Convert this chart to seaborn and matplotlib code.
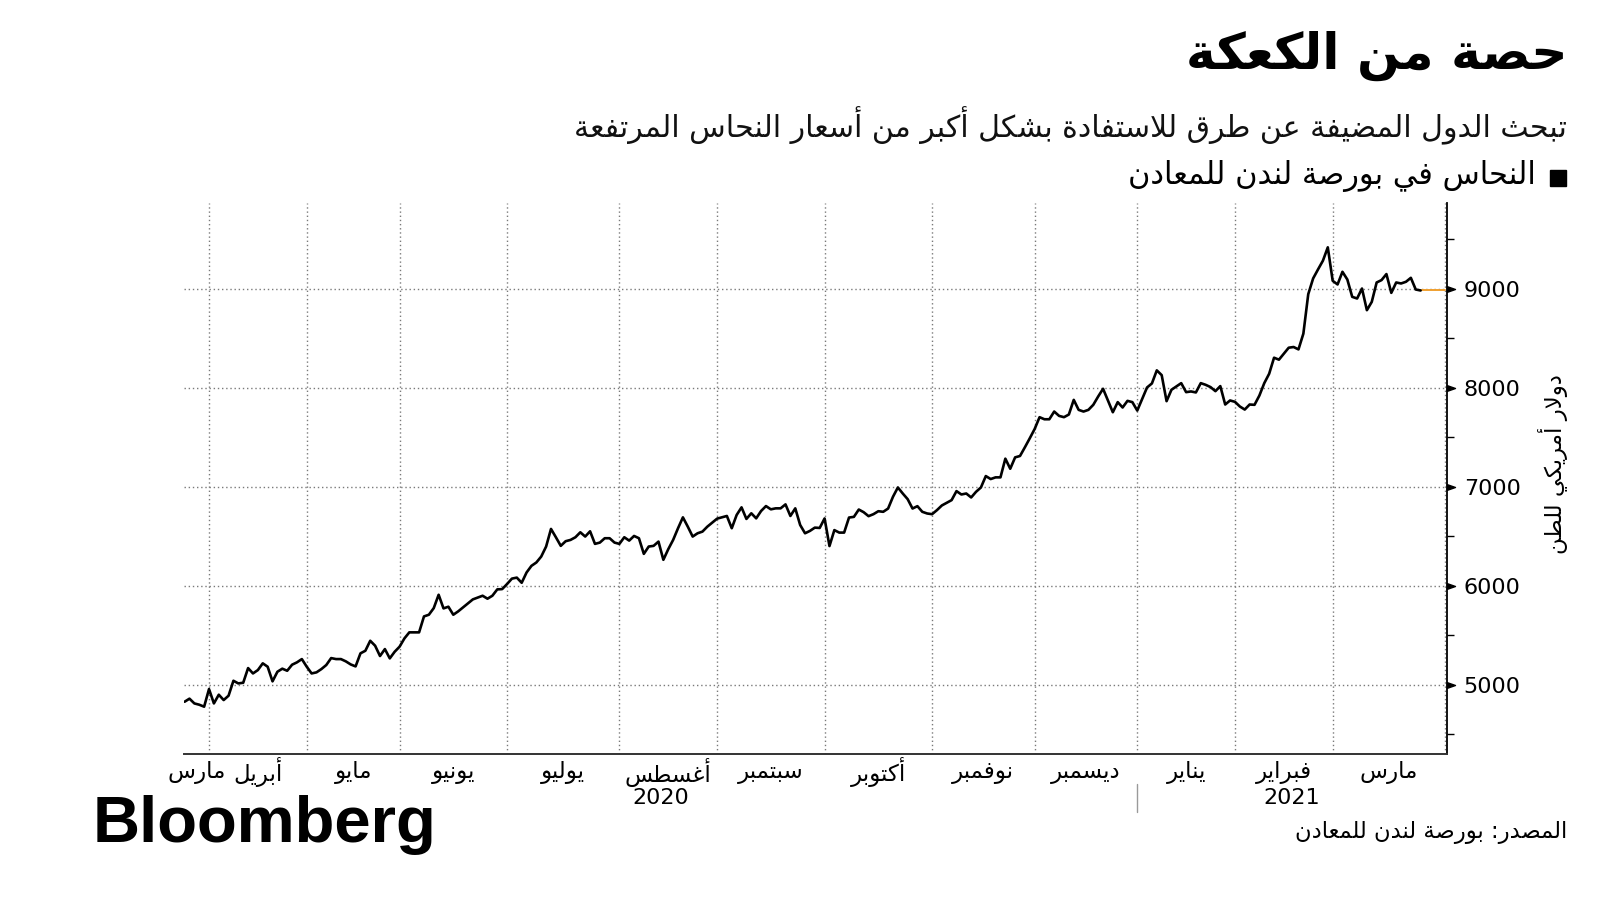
import numpy as np
import pandas as pd
import matplotlib
matplotlib.use("Agg")
import matplotlib.pyplot as plt
import seaborn as sns
from matplotlib.path import Path
from matplotlib.lines import Line2D
from matplotlib.transforms import blended_transform_factory

# ---------------- data ----------------
TITLE = "حصة من الكعكة"
SUBTITLE = "تبحث الدول المضيفة عن طرق للاستفادة بشكل أكبر من أسعار النحاس المرتفعة"
LEGEND = "النحاس في بورصة لندن للمعادن"
YLABEL = "دولار أمريكي للطن"
SOURCE = "المصدر: بورصة لندن للمعادن"
LOGO = "Bloomberg"
MONTHS = ["مارس", "أبريل", "مايو", "يونيو", "يوليو", "أغسطس", "سبتمبر",
          "أكتوبر", "نوفمبر", "ديسمبر", "يناير", "فبراير", "مارس"]
YEARS = ["2020", "2021"]
Y_TICKS = [5000, 6000, 7000, 8000, 9000]
Y_MINOR = [4500, 5500, 6500, 7500, 8500, 9500]

START = "2020-03-25"
END = "2021-04-01"
HOLIDAYS = ["2020-04-10", "2020-04-13", "2020-05-08", "2020-05-25",
            "2020-08-31", "2020-12-25", "2020-12-28", "2021-01-01"]

# LME copper, USD per tonne, one value per trading day from 2020-03-25
PRICES = [
    4828, 4859, 4811, 4798, 4778, 4956, 4811, 4899, 4845, 4889,
    5040, 5013, 5020, 5168, 5114, 5148, 5216, 5182, 5034, 5131,
    5162, 5141, 5202, 5226, 5259, 5182, 5114, 5125, 5158, 5199,
    5269, 5259, 5259, 5236, 5205, 5185, 5317, 5343, 5444, 5394,
    5290, 5360, 5266, 5333, 5384, 5468, 5529, 5529, 5529, 5690,
    5707, 5774, 5909, 5771, 5788, 5707, 5741, 5781, 5822, 5862,
    5880, 5899, 5869, 5899, 5963, 5966, 6017, 6072, 6082, 6030,
    6134, 6201, 6235, 6295, 6396, 6574, 6490, 6403, 6450, 6463,
    6490, 6540, 6497, 6550, 6423, 6436, 6480, 6480, 6436, 6423,
    6490, 6456, 6503, 6480, 6322, 6396, 6403, 6446, 6262, 6369,
    6463, 6581, 6691, 6597, 6497, 6530, 6547, 6597, 6638, 6678,
    6691, 6705, 6581, 6715, 6792, 6675, 6732, 6681, 6755, 6805,
    6772, 6782, 6782, 6822, 6705, 6782, 6614, 6530, 6554, 6587,
    6584, 6680, 6401, 6562, 6537, 6537, 6689, 6696, 6770, 6743,
    6703, 6723, 6753, 6747, 6780, 6899, 6993, 6932, 6875, 6780,
    6804, 6747, 6730, 6723, 6764, 6811, 6838, 6865, 6956, 6922,
    6932, 6892, 6949, 6993, 7108, 7078, 7095, 7095, 7284, 7182,
    7297, 7311, 7399, 7490, 7584, 7703, 7682, 7682, 7760, 7716,
    7703, 7730, 7878, 7777, 7760, 7777, 7828, 7912, 7990, 7872,
    7753, 7855, 7801, 7868, 7855, 7770, 7887, 8003, 8044, 8176,
    8128, 7865, 7980, 8014, 8047, 7956, 7963, 7953, 8047, 8030,
    8007, 7966, 8017, 7831, 7872, 7858, 7811, 7780, 7831, 7828,
    7922, 8047, 8142, 8304, 8284, 8345, 8405, 8412, 8388, 8547,
    8946, 9105, 9196, 9284, 9419, 9081, 9044, 9172, 9094, 8919,
    8902, 9003, 8784, 8868, 9064, 9088, 9149, 8959, 9064, 9054,
    9071, 9111, 8993, 8983,
]

# ---------------- Arabic shaping (presentation forms + visual order) ----------------
DUAL = {'ئ': 0xFE89, 'ب': 0xFE8F, 'ت': 0xFE95, 'ث': 0xFE99, 'ج': 0xFE9D, 'ح': 0xFEA1,
        'خ': 0xFEA5, 'س': 0xFEB1, 'ش': 0xFEB5, 'ص': 0xFEB9, 'ض': 0xFEBD, 'ط': 0xFEC1,
        'ظ': 0xFEC5, 'ع': 0xFEC9, 'غ': 0xFECD, 'ف': 0xFED1, 'ق': 0xFED5, 'ك': 0xFED9,
        'ل': 0xFEDD, 'م': 0xFEE1, 'ن': 0xFEE5, 'ه': 0xFEE9, 'ي': 0xFEF1}
RIGHT = {'آ': 0xFE81, 'أ': 0xFE83, 'ؤ': 0xFE85, 'إ': 0xFE87, 'ا': 0xFE8D, 'ة': 0xFE93,
         'د': 0xFEA9, 'ذ': 0xFEAB, 'ر': 0xFEAD, 'ز': 0xFEAF, 'و': 0xFEED, 'ى': 0xFEEF}
LAMALEF = {'آ': 0xFEF5, 'أ': 0xFEF7, 'إ': 0xFEF9, 'ا': 0xFEFB}


def shape(text):
    units = []
    i = 0
    while i < len(text):
        c = text[i]
        if c == 'ل' and i + 1 < len(text) and text[i + 1] in LAMALEF:
            units.append(('LA', LAMALEF[text[i + 1]]))
            i += 2
        else:
            units.append((c, None))
            i += 1

    def is_letter(u):
        return u[0] == 'LA' or u[0] in DUAL or u[0] in RIGHT

    out = []
    for k, u in enumerate(units):
        prev = units[k - 1] if k > 0 else None
        nxt = units[k + 1] if k + 1 < len(units) else None
        cp = prev is not None and prev[0] in DUAL and is_letter(u)
        cn = nxt is not None and u[0] in DUAL and is_letter(nxt)
        c = u[0]
        if c == 'LA':
            out.append(chr(u[1] + (1 if cp else 0)))
        elif c in DUAL:
            off = 3 if (cp and cn) else 1 if cp else 2 if cn else 0
            out.append(chr(DUAL[c] + off))
        elif c in RIGHT:
            out.append(chr(RIGHT[c] + (1 if cp else 0)))
        else:
            out.append(c)
    return ''.join(reversed(out))


# ---------------- trading calendar ----------------
days = pd.bdate_range(START, END)
days = days[~days.isin(pd.to_datetime(HOLIDAYS))]
idx_all = np.arange(len(days))
n = len(PRICES)
df = pd.DataFrame({"i": idx_all[:n], "price": PRICES})

month_start = [k for k in range(1, len(days)) if days[k].month != days[k - 1].month]
year_start = [k for k in range(1, len(days)) if days[k].year != days[k - 1].year]

XMIN, XMAX = -0.12, len(days) - 1 + 0.4
YMIN, YMAX = 4300, 9867

# ---------------- figure ----------------
sns.set_theme(style="white")
plt.rcParams["font.family"] = ["DejaVu Sans"]

W, H = 1600, 900
fig = plt.figure(figsize=(16, 9), dpi=100)
fig.patch.set_facecolor("white")


def fx(px):
    return px / W


def fy(py):
    return 1 - py / H


ax = fig.add_axes([fx(184), fy(754), fx(1447) - fx(184), fy(203) - fy(754)])
ax.set_facecolor("white")

sns.lineplot(data=df, x="i", y="price", ax=ax, color="black", linewidth=1.9, zorder=5)
ax.plot([n - 1, len(days) - 1], [PRICES[-1], PRICES[-1]], color="#f0a030", lw=1.4, zorder=4)

ax.set_xlim(XMIN, XMAX)
ax.set_ylim(YMIN, YMAX)
ax.set_xlabel("")
ax.set_ylabel("")

# grid
ax.set_xticks(month_start)
ax.set_xticklabels([])
ax.set_yticks(Y_TICKS)
ax.set_yticks(Y_MINOR, minor=True)
ax.grid(True, which="major", linestyle=(0, (1, 2.0)), color="#7a7a7a", linewidth=1.0)

for s in ["top", "left"]:
    ax.spines[s].set_visible(False)
ax.spines["bottom"].set_color("#333333")
ax.spines["bottom"].set_linewidth(1.4)
ax.spines["right"].set_color("black")
ax.spines["right"].set_linewidth(1.3)

ax.tick_params(axis="x", which="major", direction="inout", length=8, width=1, color="#333333")
ax.yaxis.tick_right()
ax.tick_params(axis="y", which="major", length=0, pad=12, labelsize=16, labelcolor="black")
ax.tick_params(axis="y", which="minor", length=5, width=1, color="black", direction="out")
ax.set_yticklabels([str(v) for v in Y_TICKS])

# triangle markers on the major y ticks
tri = Path([(0, -0.35), (1, 0), (0, 0.35), (0, -0.35)],
           [Path.MOVETO, Path.LINETO, Path.LINETO, Path.CLOSEPOLY])
ax.plot([1.0] * len(Y_TICKS), Y_TICKS, transform=blended_transform_factory(ax.transAxes, ax.transData),
        marker=tri, markersize=11.5, linestyle="none", color="black", clip_on=False, zorder=6)

# month labels centred in each month span
bx = blended_transform_factory(ax.transData, fig.transFigure)
edges = [0] + month_start
for k, lab in enumerate(MONTHS):
    a = edges[k]
    b = edges[k + 1] if k + 1 < len(edges) else XMAX
    ax.text((a + b) / 2, fy(772), shape(lab), transform=bx, ha="center", va="center",
            fontsize=16.5, color="black")

# year labels centred in each year span + separator
yedges = [0] + year_start + [XMAX]
for k, lab in enumerate(YEARS):
    ax.text((yedges[k] + yedges[k + 1]) / 2, fy(798), lab, transform=bx, ha="center", va="center",
            fontsize=16, color="black")
for ys in year_start:
    ax.add_line(Line2D([ys, ys], [fy(784), fy(812)], transform=bx, color="#9a9a9a", lw=1, clip_on=False))

# titles
fig.text(fx(1567), fy(56), shape(TITLE), ha="right", va="center", fontsize=36.3, fontweight="bold",
         color="black")
fig.text(fx(1567), fy(126), shape(SUBTITLE), ha="right", va="center", fontsize=21.6, color="#111111")
fig.add_artist(Line2D([fx(1558)], [fy(178)], marker="s", markersize=12, color="black",
                      transform=fig.transFigure))
fig.text(fx(1536), fy(176), shape(LEGEND), ha="right", va="center", fontsize=22, color="black")

# y axis title
fig.text(fx(1553), fy(464), shape(YLABEL), ha="center", va="center", rotation=90, fontsize=16.5,
         color="black")

# source and logo
fig.text(fx(1567), fy(832), shape(SOURCE), ha="right", va="center", fontsize=16.3, color="black")
fig.text(fx(93), fy(842), LOGO, ha="left", va="baseline", fontsize=47, fontweight="bold",
         family="Liberation Sans", color="black")

fig.savefig("out.png", dpi=100, facecolor="white")
